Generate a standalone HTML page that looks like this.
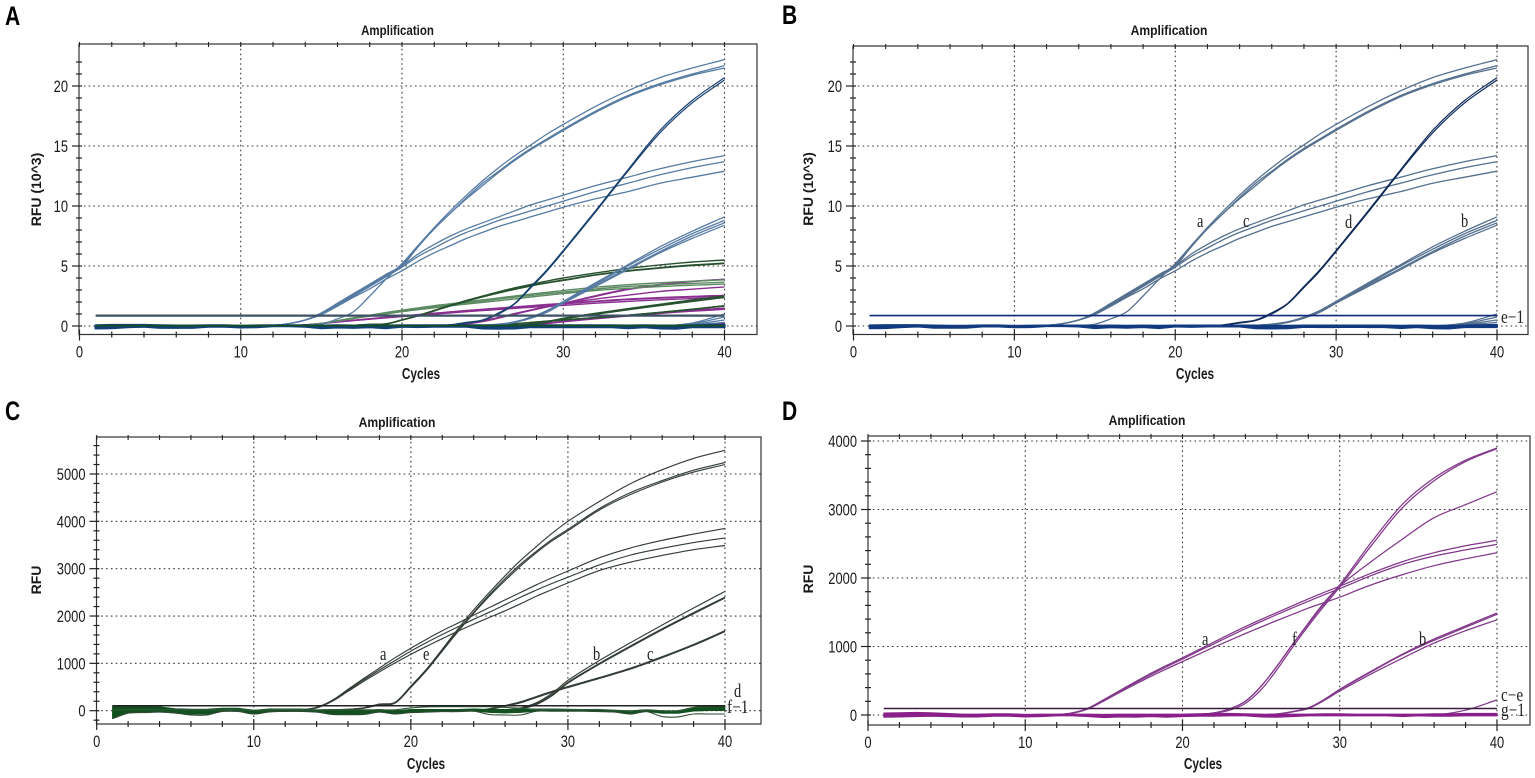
<!DOCTYPE html>
<html lang="en">
<head>
<meta charset="utf-8">
<title>Amplification charts</title>
<style>
html,body{margin:0;padding:0;background:#fff;}
svg{display:block;filter:blur(.35px);}
text{font-family:"Liberation Sans",sans-serif;fill:#1a1a1a;}
.anno{font-family:"Liberation Serif",serif;font-size:17px;fill:#222;}
.title{font-weight:bold;font-size:12.5px;}
.axt{font-weight:bold;font-size:14px;}
.letter{font-weight:bold;font-size:27px;fill:#000;}
</style>
</head>
<body>
<svg id="fig" width="1535" height="778" viewBox="0 0 1535 778" xmlns="http://www.w3.org/2000/svg">
  <g id="panelA">
    <text class="letter" transform="translate(5,25) scale(.78,1)">A</text>
    <text class="title" transform="translate(397.5,35) scale(.92,1.1)" text-anchor="middle">Amplification</text>
    <text class="axt" transform="translate(421,379) scale(.85,1.1)" text-anchor="middle">Cycles</text>
    <text class="axt" transform="translate(41,189.5) rotate(-90)" text-anchor="middle">RFU (10^3)</text>
  </g>
  <g id="panelB">
    <text class="letter" transform="translate(782,24) scale(.78,1)">B</text>
    <text class="title" transform="translate(1169,35) scale(.97,1.1)" text-anchor="middle">Amplification</text>
    <text class="axt" transform="translate(1195,379) scale(.85,1.1)" text-anchor="middle">Cycles</text>
    <text class="axt" transform="translate(813,189) rotate(-90)" text-anchor="middle">RFU (10^3)</text>
    <text class="anno" transform="translate(1197,227) scale(.85,1.1)">a</text>
    <text class="anno" transform="translate(1243,227) scale(.85,1.1)">c</text>
    <text class="anno" transform="translate(1345,228) scale(.85,1.1)">d</text>
    <text class="anno" transform="translate(1461,227) scale(.85,1.1)">b</text>
    <text class="anno" transform="translate(1501,323) scale(.9,1.1)">e−1</text>
  </g>
  <g id="panelC">
    <text class="letter" transform="translate(5,420) scale(.78,1)">C</text>
    <text class="title" transform="translate(397,427) scale(.97,1.1)" text-anchor="middle">Amplification</text>
    <text class="axt" transform="translate(426,769) scale(.85,1.1)" text-anchor="middle">Cycles</text>
    <text class="axt" transform="translate(41,580) rotate(-90)" text-anchor="middle">RFU</text>
    <text class="anno" transform="translate(380,660) scale(.85,1.1)">a</text>
    <text class="anno" transform="translate(423,660) scale(.85,1.1)">e</text>
    <text class="anno" transform="translate(593,660) scale(.85,1.1)">b</text>
    <text class="anno" transform="translate(647,660) scale(.85,1.1)">c</text>
    <text class="anno" transform="translate(734,697) scale(.85,1.1)">d</text>
    <text class="anno" transform="translate(727,713) scale(.9,1.1)">f−1</text>
  </g>
  <g id="panelD">
    <text class="letter" transform="translate(782,420) scale(.78,1)">D</text>
    <text class="title" transform="translate(1147,425) scale(.97,1.1)" text-anchor="middle">Amplification</text>
    <text class="axt" transform="translate(1203,769) scale(.85,1.1)" text-anchor="middle">Cycles</text>
    <text class="axt" transform="translate(813,579) rotate(-90)" text-anchor="middle">RFU</text>
    <text class="anno" transform="translate(1202,645) scale(.85,1.1)">a</text>
    <text class="anno" transform="translate(1292,645) scale(.85,1.1)">f</text>
    <text class="anno" transform="translate(1419,645) scale(.85,1.1)">b</text>
    <text class="anno" transform="translate(1501,701) scale(.9,1.1)">c−e</text>
    <text class="anno" transform="translate(1501,716) scale(.9,1.1)">g−1</text>
  </g>
</svg>
<script>
// Cycle numbers at which the curves below were read
const cycles = [1,10,12,13,14,15,16,17,18,19,20,21,22,23,24,25,26,27,28,29,30,32,34,36,38,40];
const baseCycles = [1,2,3,4,5,6,7,8,9,10,11,12,13,14,15,16,17,18,19,20,21,22,23,24,25,26,27,28,29,30,31,32,33,34,35,36,37,38,39,40];
const xTickLabels = [0,10,20,30,40];
const yTickLabelsK = [0,5,10,15,20];
const yTickLabelsC = [0,1000,2000,3000,4000,5000];
const yTickLabelsD = [0,1000,2000,3000,4000];

// FAM channel, RFU x 10^3 (panel B, also in A)
const famA1 = [0,0,.05,.2,.5,1.1,1.9,2.7,3.5,4.3,5.1,6.7,8.2,9.6,10.9,12.1,13.2,14.2,15.1,16.0,16.8,18.3,19.6,20.7,21.5,22.2];
const famA2 = [0,0,.05,.2,.5,1.05,1.8,2.6,3.4,4.2,5.0,6.6,8.1,9.4,10.7,11.9,12.9,13.9,14.8,15.6,16.4,17.9,19.2,20.2,21.0,21.7];
const famA3 = [0,0,0,0,.05,.15,.6,1.2,2.5,3.9,5.2,6.7,8.1,9.4,10.6,11.7,12.8,13.8,14.7,15.5,16.3,17.8,19.1,20.1,20.9,21.5];
const famC1 = [0,0,.05,.2,.5,1.0,1.8,2.6,3.4,4.2,5.0,6.0,6.8,7.5,8.1,8.6,9.1,9.6,10.1,10.5,10.9,11.7,12.4,13.1,13.7,14.2];
const famC2 = [0,0,.05,.2,.5,1.0,1.75,2.5,3.3,4.1,4.9,5.8,6.5,7.2,7.8,8.3,8.8,9.2,9.6,10.0,10.4,11.2,11.9,12.6,13.2,13.7];
const famC3 = [0,0,.05,.2,.5,.95,1.65,2.4,3.1,3.9,4.6,5.4,6.1,6.7,7.3,7.8,8.3,8.7,9.1,9.5,9.9,10.6,11.2,11.9,12.4,12.9];
const famD1 = [0,0,0,0,0,0,0,0,0,0,0,0,0,.1,.3,.5,1.1,1.9,3.3,4.7,6.3,9.6,13.0,16.3,18.8,20.7];
const famD2 = [0,0,0,0,0,0,0,0,0,0,0,0,0,.08,.25,.45,1.0,1.85,3.2,4.6,6.2,9.5,12.9,16.1,18.6,20.5];
const famB1 = [0,0,0,0,0,0,0,0,0,0,0,0,0,0,0,.05,.15,.35,.75,1.3,2.05,3.6,5.1,6.6,7.9,9.1];
const famB2 = [0,0,0,0,0,0,0,0,0,0,0,0,0,0,0,.05,.15,.35,.7,1.25,2.0,3.5,5.0,6.4,7.7,8.8];
const famB3 = [0,0,0,0,0,0,0,0,0,0,0,0,0,0,0,.05,.12,.3,.68,1.2,1.95,3.4,4.8,6.2,7.5,8.6];
const famB4 = [0,0,0,0,0,0,0,0,0,0,0,0,0,0,0,.05,.1,.3,.65,1.15,1.9,3.3,4.7,6.1,7.3,8.4];
const famT1 = [0,0,0,0,0,0,0,0,0,0,0,0,0,0,0,0,0,0,0,0,0,0,0,0,.25,1.0];
const famT2 = [0,0,0,0,0,0,0,0,0,0,0,0,0,0,0,0,0,0,0,0,0,0,0,0,.2,.75];
const famT3 = [0,0,0,0,0,0,0,0,0,0,0,0,0,0,0,0,0,0,0,0,0,0,0,0,.15,.5];
const famT4 = [0,0,0,0,0,0,0,0,0,0,0,0,0,0,0,0,0,0,0,0,0,0,0,0,.1,.3];
const famBaseHigh = [.06,.08,.08,.08,.05,.03,.03,.06,.06,.02,.04,.05,.05,.05,.03,.05,.03,.05,.03,.05,.05,.05,.05,.05,.05,.03,.03,.05,.05,.05,.05,.05,.05,.03,.05,.03,.03,.05,.08,.1];
const famBaseLow = [-.2,-.18,-.1,-.05,-.15,-.15,-.15,-.05,-.05,-.12,-.1,-.02,-.02,-.05,-.18,-.12,-.15,-.1,-.18,-.05,-.08,-.05,-.05,-.05,-.2,-.22,-.2,-.08,-.1,-.1,-.08,-.1,-.1,-.18,-.1,-.2,-.22,-.1,-.1,-.1];
const famThreshold = 0.87;

// HEX channel, RFU (panel C)
const hexA1 = [0,0,10,20,70,220,450,680,900,1120,1320,1510,1690,1850,2020,2180,2340,2500,2660,2810,2950,3230,3440,3600,3730,3850];
const hexA2 = [0,0,10,20,70,210,430,650,860,1060,1260,1440,1610,1770,1930,2080,2240,2400,2550,2690,2820,3080,3290,3430,3550,3650];
const hexA3 = [0,0,10,20,60,200,410,620,820,1010,1190,1360,1520,1680,1830,1970,2110,2260,2420,2560,2700,2960,3140,3280,3400,3490];
const hexE1 = [0,0,0,0,10,20,30,60,140,180,520,880,1300,1730,2130,2500,2850,3180,3470,3750,4000,4420,4800,5090,5330,5500];
const hexE2 = [0,0,0,0,10,20,30,60,130,170,500,860,1270,1690,2080,2450,2790,3100,3370,3620,3830,4270,4610,4860,5080,5240];
const hexE3 = [0,0,0,0,10,20,30,50,120,160,490,850,1260,1670,2060,2420,2750,3060,3340,3590,3800,4240,4570,4830,5040,5200];
const hexB1 = [0,0,0,0,0,0,0,0,0,0,0,0,0,0,0,10,20,60,170,370,640,1060,1440,1810,2170,2520];
const hexB2 = [0,0,0,0,0,0,0,0,0,0,0,0,0,0,0,10,20,50,150,340,600,1000,1370,1730,2070,2400];
const hexB3 = [0,0,0,0,0,0,0,0,0,0,0,0,0,0,0,10,20,40,130,320,580,980,1350,1710,2050,2380];
const hexC1 = [0,0,0,0,0,0,0,0,0,0,0,0,0,0,0,40,110,190,300,410,510,700,900,1140,1400,1690];
const hexC2 = [0,0,0,0,0,0,0,0,0,0,0,0,0,0,0,40,100,180,290,400,500,690,890,1130,1390,1680];
const hexC3 = [0,0,0,0,0,0,0,0,0,0,0,0,0,0,0,30,90,170,280,390,490,680,880,1120,1380,1670];
const hexBaseHigh = [100,95,90,85,45,35,35,55,55,15,40,40,40,20,5,20,5,30,0,30,30,30,30,40,30,30,35,40,40,30,25,25,10,-20,20,0,0,70,95,95];
const hexBaseLow = [-170,-50,-40,-30,-50,-75,-75,-15,-15,-70,-25,-15,-15,-30,-80,-85,-80,-30,-70,-40,-30,-20,-20,-10,-40,-50,-40,-10,-10,-10,-10,-20,-30,-75,-20,-60,-60,-10,0,0];
const hexDipLine = [-170,-50,-40,-30,-50,-90,-90,-15,-15,-70,-25,-15,-15,-30,-80,-85,-80,-30,-70,-40,-30,-20,-20,-10,-80,-90,-90,-10,-10,-10,-10,-20,-30,-70,-20,-125,-130,-70,-70,-70];
const hexUpperLine = [20,20,20,20,20,20,20,20,20,10,20,20,20,20,20,20,20,20,20,60,80,85,85,85,85,70,50,30,30,30,25,25,10,0,20,0,0,70,95,95];
const hexThreshold = 105;

// ROX channel, RFU (panel D)
const roxA1 = [0,0,5,30,100,225,355,485,610,725,835,950,1065,1180,1290,1395,1495,1595,1695,1790,1880,2070,2240,2370,2470,2550];
const roxA2 = [0,0,5,30,95,215,345,470,590,705,815,930,1040,1150,1260,1365,1465,1565,1660,1755,1845,2035,2200,2320,2410,2490];
const roxA3 = [0,0,5,25,90,205,330,450,565,675,780,885,990,1090,1190,1285,1380,1470,1560,1640,1720,1900,2050,2180,2280,2370];
const roxF1 = [0,0,0,0,0,0,0,0,0,0,5,10,30,90,200,420,710,1030,1340,1640,1900,2520,3080,3460,3720,3900];
const roxF2 = [0,0,0,0,0,0,0,0,0,0,5,10,25,70,170,370,660,990,1300,1590,1870,2470,3030,3420,3700,3890];
const roxF3 = [0,0,0,0,0,0,0,0,0,0,5,10,30,90,200,420,710,1030,1330,1620,1880,2240,2570,2880,3070,3260];
const roxB1 = [0,0,0,0,0,0,0,0,0,0,0,0,0,0,0,5,15,50,105,225,375,640,890,1110,1300,1490];
const roxB2 = [0,0,0,0,0,0,0,0,0,0,0,0,0,0,0,5,15,50,100,220,370,630,880,1090,1280,1470];
const roxB3 = [0,0,0,0,0,0,0,0,0,0,0,0,0,0,0,0,10,45,95,210,350,600,830,1050,1230,1390];
const roxT1 = [0,0,0,0,0,0,0,0,0,0,0,0,0,0,0,0,0,0,0,0,0,0,0,0,70,220];
const roxBaseHigh = [30,35,40,35,25,15,15,20,20,10,15,15,15,15,10,15,15,15,15,15,20,25,25,20,15,10,15,15,20,20,15,15,15,15,15,20,20,25,25,25];
const roxBaseLow = [-35,-30,-25,-20,-25,-30,-30,-20,-20,-30,-25,-15,-15,-25,-40,-30,-35,-25,-35,-25,-20,-20,-15,-15,-30,-35,-25,-15,-15,-15,-15,-15,-15,-25,-15,-20,-20,-15,-15,-15];
const roxThreshold = 95;

const famCurves = [famT1,famT2,famT3,famT4,famC1,famC2,famC3,famB1,famB2,famB3,famB4,famA1,famA2,famA3];
const famDark = [famD1,famD2];
const hexCurves = [hexA1,hexA2,hexA3,hexE1,hexE2,hexE3,hexB1,hexB2,hexB3,hexC1,hexC2,hexC3];
const roxCurves = [roxT1,roxA1,roxA2,roxA3,roxF1,roxF2,roxF3,roxB1,roxB2,roxB3];

const SVGNS = 'http://www.w3.org/2000/svg';

function make(parent, tag, name, attrs) {
  const el = document.createElementNS(SVGNS, tag);
  
  
  for (const k in attrs) el.setAttribute(k, attrs[k]);
  parent.appendChild(el);
  return el;
}

function axes(id, g) {
  const root = document.getElementById(id);
  const x = c => g.x0 + (g.x40 - g.x0) * c / 40;
  const y = v => g.y0 + (g.yRefPx - g.y0) * v / g.yRef;
  const layer = make(root, 'g', 'plot-area', {});

  // dotted gridlines
  xTickLabels.slice(1).forEach(c => {
    make(layer, 'line', 'vertical-gridline', {x1:x(c), x2:x(c), y1:g.T, y2:g.B, stroke:'#333', 'stroke-width':1.1, 'stroke-dasharray':'1.6 3.2'});
  });
  g.labels.forEach(v => {
    make(layer, 'line', 'horizontal-gridline', {x1:g.L, x2:g.R, y1:y(v), y2:y(v), stroke:'#333', 'stroke-width':1.1, 'stroke-dasharray':'1.6 3.2'});
  });

  // frame
  make(layer, 'rect', 'plot-frame', {x:g.L, y:g.T, width:g.R - g.L, height:g.B - g.T, fill:'none', stroke:'#333', 'stroke-width':1.2});

  // x ticks
  for (let c = 0; c <= 40; c += 2) {
    const major = c % 10 === 0;
    make(layer, 'line', 'x-tick', {x1:x(c), x2:x(c), y1:g.B - (major ? 5 : 3), y2:g.B + (major ? 6 : 3), stroke:'#222', 'stroke-width':1.2});
    make(layer, 'line', 'x-tick-top', {x1:x(c), x2:x(c), y1:g.T - 2, y2:g.T + 3, stroke:'#222', 'stroke-width':1.1});
  }
  xTickLabels.forEach(c => {
    const t = make(layer, 'text', 'x-tick-label', {transform:`translate(${x(c)},${g.B + 23}) scale(.86,1.12)`, 'text-anchor':'middle', 'font-size':15});
    t.textContent = c;
  });

  // y ticks
  for (let v = g.minorFrom; v <= g.minorTo + 1e-6; v += g.minorStep) {
    const major = g.labels.some(l => Math.abs(l - v) < 1e-6);
    make(layer, 'line', 'y-tick', {x1:g.L - (major ? 7 : 3), x2:g.L + 3, y1:y(v), y2:y(v), stroke:'#222', 'stroke-width':1.2});
  }
  g.labels.forEach(v => {
    const t = make(layer, 'text', 'y-tick-label', {transform:`translate(${g.L - 11},${y(v) + 6}) scale(.86,1.12)`, 'text-anchor':'end', 'font-size':15});
    t.textContent = v;
  });
  return {layer, x, y};
}

// Smooth path through the read values (Hermite tangents from neighbouring points)
function curve(ax, xs, ys, div, color, width, name) {
  const n = ys.length;
  const slope = i => {
    const a = Math.max(0, i - 1), b = Math.min(n - 1, i + 1);
    return (ys[b] - ys[a]) / (xs[b] - xs[a]);
  };
  let d = 'M' + ax.x(xs[0]).toFixed(1) + ' ' + ax.y(ys[0] / div).toFixed(1);
  for (let i = 0; i < n - 1; i++) {
    const h = xs[i + 1] - xs[i];
    const y1 = ys[i] + slope(i) * h / 3;
    const y2 = ys[i + 1] - slope(i + 1) * h / 3;
    d += 'C' + ax.x(xs[i] + h / 3).toFixed(1) + ' ' + ax.y(y1 / div).toFixed(1) + ' '
       + ax.x(xs[i + 1] - h / 3).toFixed(1) + ' ' + ax.y(y2 / div).toFixed(1) + ' '
       + ax.x(xs[i + 1]).toFixed(1) + ' ' + ax.y(ys[i + 1] / div).toFixed(1);
  }
  make(ax.layer, 'path', name, {d:d, fill:'none', stroke:color, 'stroke-width':width, 'stroke-linejoin':'round'});
}

function band(ax, high, low, div, color, name, edge) {
  const up = high.map((v, i) => ax.x(baseCycles[i]).toFixed(1) + ',' + ax.y(v / div).toFixed(1));
  const down = low.map((v, i) => ax.x(baseCycles[i]).toFixed(1) + ',' + ax.y(v / div).toFixed(1)).reverse();
  make(ax.layer, 'polygon', name, {points:up.concat(down).join(' '), fill:color, stroke:color, 'stroke-width':edge, 'stroke-linejoin':'round'});
}

function threshold(ax, value, div, color, width) {
  curve(ax, [1, 40], [value, value], div, color, width, 'threshold-line');
}

// Panel A: all three channels overlaid
const axA = axes('panelA', {L:79, R:757, T:44, B:334.5, x0:79.5, x40:724.5, y0:326, yRef:20, yRefPx:86, labels:yTickLabelsK, minorFrom:0, minorTo:22, minorStep:1});
roxCurves.forEach(s => curve(axA, cycles, s, 1000, '#8a2e90', 1.4, 'rox-curve'));
hexCurves.forEach((s, i) => curve(axA, cycles, s, 1000, i < 3 ? '#5c8a62' : '#27512f', 1.4, 'hex-curve'));
famCurves.forEach(s => curve(axA, cycles, s, 1, '#567ba3', 1.3, 'fam-curve'));
famDark.forEach(s => curve(axA, cycles, s, 1, '#17406e', 1.2, 'fam-curve'));
threshold(axA, famThreshold, 1, '#3d5064', 2.2);
band(axA, famBaseHigh, famBaseLow, 1, '#123f78', 'fam-baseline', 2.2);
curve(axA, [1, 40], [.03, .03], 1, '#14501f', 1.6, 'hex-baseline');

// Panel B: FAM channel
const axB = axes('panelB', {L:853, R:1528, T:46, B:334.5, x0:853.5, x40:1497, y0:326, yRef:20, yRefPx:86, labels:yTickLabelsK, minorFrom:0, minorTo:22, minorStep:1});
famCurves.forEach(s => curve(axB, cycles, s, 1, '#55708f', 1.3, 'fam-curve'));
famDark.forEach(s => curve(axB, cycles, s, 1, '#102a58', 1.2, 'fam-curve'));
threshold(axB, famThreshold, 1, '#0f2a78', 1.6);
band(axB, famBaseHigh, famBaseLow, 1, '#123a80', 'fam-baseline', 1.8);

// Panel C: HEX channel
const axC = axes('panelC', {L:96.5, R:761, T:437, B:724, x0:96.7, x40:725, y0:710.7, yRef:5000, yRefPx:474, labels:yTickLabelsC, minorFrom:-200, minorTo:5600, minorStep:200});
hexCurves.forEach(s => curve(axC, cycles, s, 1, '#333d36', 1.15, 'hex-curve'));
band(axC, hexBaseHigh, hexBaseLow, 1, '#125020', 'hex-baseline', .6);
curve(axC, baseCycles, hexDipLine, 1, '#2f4a33', 1.1, 'hex-baseline-low-line');
curve(axC, baseCycles, hexUpperLine, 1, '#2f5a38', 1.1, 'hex-baseline-high-line');
threshold(axC, hexThreshold, 1, '#222', 1.5);

// Panel D: ROX channel
const axD = axes('panelD', {L:868, R:1530, T:436, B:725, x0:868, x40:1497, y0:715, yRef:4000, yRefPx:441, labels:yTickLabelsD, minorFrom:0, minorTo:4000, minorStep:200});
roxCurves.forEach(s => curve(axD, cycles, s, 1, '#82388a', 1.25, 'rox-curve'));
threshold(axD, roxThreshold, 1, '#3c1a40', 1.5);
band(axD, roxBaseHigh, roxBaseLow, 1, '#8a1f8a', 'rox-baseline', .8);

// keep annotation labels above the traces
['panelB','panelC','panelD'].forEach(id => {
  const root = document.getElementById(id);
  root.querySelectorAll('.anno').forEach(n => root.appendChild(n));
});
</script>
</body>
</html>
